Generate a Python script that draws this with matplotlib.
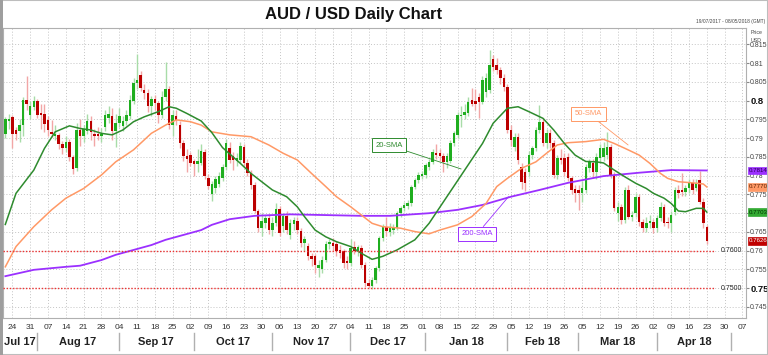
import numpy as np
import pandas as pd
import matplotlib
matplotlib.use('Agg')
import matplotlib.pyplot as plt
from matplotlib.patches import Rectangle
from matplotlib.lines import Line2D

plt.rcParams['font.family'] = ['Liberation Sans', 'DejaVu Sans']

# daily bars, 20 Jul 2017 - 23 Apr 2018 (trading days, holidays kept)
dates = pd.bdate_range('2017-07-20', '2018-04-23')

opens = [
    0.7911, 0.7945,
    0.7957, 0.7923, 0.7919, 0.7934, 0.8001,
    0.7961, 0.7983, 0.8000, 0.7967, 0.7965,
    0.7948, 0.7917, 0.7905, 0.7908, 0.7884,
    0.7873, 0.7890, 0.7849, 0.7820, 0.7923,
    0.7905, 0.7920, 0.7945, 0.7912, 0.7910,
    0.7906, 0.7930, 0.7955, 0.7958, 0.7918,
    0.7940, 0.7933, 0.7945, 0.7958, 0.7998,
    0.8047, 0.8069, 0.8029, 0.8020, 0.7985,
    0.8004, 0.7994, 0.7963, 0.8011, 0.8031,
    0.7936, 0.7960, 0.7934, 0.7888, 0.7852,
    0.7854, 0.7838, 0.7830, 0.7835, 0.7863,
    0.7795, 0.7750, 0.7768, 0.7777, 0.7795,
    0.7822, 0.7874, 0.7852, 0.7840, 0.7843,
    0.7877, 0.7834, 0.7807, 0.7776, 0.7705,
    0.7661, 0.7674, 0.7687, 0.7656, 0.7674,
    0.7710, 0.7665, 0.7692, 0.7643, 0.7670,
    0.7679, 0.7652, 0.7621, 0.7612, 0.7585,
    0.7585, 0.7554, 0.7550, 0.7576, 0.7617,
    0.7621, 0.7617, 0.7603, 0.7599, 0.7572,
    0.7567, 0.7609, 0.7599, 0.7608, 0.7563,
    0.7514, 0.7505, 0.7522, 0.7553, 0.7633,
    0.7664, 0.7650, 0.7655, 0.7660, 0.7700,
    0.7713, 0.7718, 0.7726, 0.7771, 0.7788,
    0.7800, 0.7802, 0.7824, 0.7837, 0.7860,
    0.7860, 0.7852, 0.7837, 0.7840, 0.7886,
    0.7908, 0.7960, 0.7962, 0.7968, 0.8002,
    0.8000, 0.8010, 0.7997, 0.8024, 0.8028,
    0.8110, 0.8095, 0.8082, 0.8060, 0.8037,
    0.7922, 0.7877, 0.7904, 0.7824, 0.7811,
    0.7811, 0.7855, 0.7873, 0.7922, 0.7944,
    0.7886, 0.7913, 0.7886, 0.7802, 0.7848,
    0.7846, 0.7850, 0.7793, 0.7765, 0.7762,
    0.7753, 0.7762, 0.7820, 0.7833, 0.7811,
    0.7846, 0.7851, 0.7855, 0.7877, 0.7802,
    0.7700, 0.7717, 0.7682, 0.7762, 0.7691,
    0.7700, 0.7744, 0.7677, 0.7660, 0.7673,
    0.7677, 0.7660, 0.7687, 0.7717, 0.7677,
    0.7673, 0.7704, 0.7762, 0.7762, 0.7757,
    0.7766, 0.7780, 0.7766, 0.7788, 0.7731,
    0.7664,
]
highs = [
    0.7957, 0.7965,
    0.7962, 0.7930, 0.7950, 0.8010, 0.8065,
    0.8000, 0.8012, 0.8005, 0.7990, 0.7992,
    0.7960, 0.7948, 0.7935, 0.7915, 0.7893,
    0.7905, 0.7897, 0.7855, 0.7940, 0.7950,
    0.7935, 0.7965, 0.7958, 0.7925, 0.7930,
    0.7928, 0.7975, 0.7985, 0.7980, 0.7965,
    0.7980, 0.7960, 0.7975, 0.8015, 0.8060,
    0.8125, 0.8080, 0.8045, 0.8030, 0.8012,
    0.8015, 0.8000, 0.8025, 0.8102, 0.8040,
    0.7975, 0.7975, 0.7945, 0.7895, 0.7870,
    0.7862, 0.7845, 0.7870, 0.7885, 0.7870,
    0.7805, 0.7785, 0.7800, 0.7810, 0.7830,
    0.7897, 0.7890, 0.7862, 0.7860, 0.7890,
    0.7885, 0.7845, 0.7815, 0.7782, 0.7712,
    0.7700, 0.7695, 0.7697, 0.7690, 0.7728,
    0.7720, 0.7700, 0.7705, 0.7685, 0.7690,
    0.7690, 0.7660, 0.7640, 0.7620, 0.7595,
    0.7590, 0.7575, 0.7585, 0.7625, 0.7632,
    0.7635, 0.7625, 0.7615, 0.7605, 0.7585,
    0.7630, 0.7625, 0.7615, 0.7615, 0.7570,
    0.7525, 0.7530, 0.7560, 0.7640, 0.7670,
    0.7690, 0.7675, 0.7670, 0.7705, 0.7720,
    0.7730, 0.7735, 0.7775, 0.7795, 0.7810,
    0.7812, 0.7835, 0.7845, 0.7870, 0.7885,
    0.7870, 0.7860, 0.7860, 0.7895, 0.7920,
    0.7970, 0.7985, 0.7990, 0.8010, 0.8035,
    0.8030, 0.8020, 0.8065, 0.8075, 0.8135,
    0.8122, 0.8115, 0.8090, 0.8070, 0.8045,
    0.7935, 0.7915, 0.7915, 0.7835, 0.7820,
    0.7865, 0.7880, 0.7930, 0.7988, 0.7955,
    0.7925, 0.7925, 0.7895, 0.7855, 0.7870,
    0.7860, 0.7860, 0.7800, 0.7775, 0.7775,
    0.7785, 0.7830, 0.7845, 0.7845, 0.7860,
    0.7885, 0.7890, 0.7917, 0.7885, 0.7810,
    0.7730, 0.7725, 0.7770, 0.7775, 0.7705,
    0.7755, 0.7750, 0.7685, 0.7690, 0.7695,
    0.7685, 0.7695, 0.7730, 0.7725, 0.7690,
    0.7705, 0.7770, 0.7775, 0.7808, 0.7775,
    0.7790, 0.7790, 0.7790, 0.7812, 0.7740,
    0.7668,
]
lows = [
    0.7900, 0.7925,
    0.7873, 0.7895, 0.7890, 0.7905, 0.7975,
    0.7950, 0.7975, 0.7955, 0.7925, 0.7917,
    0.7905, 0.7903, 0.7895, 0.7870, 0.7858,
    0.7862, 0.7840, 0.7805, 0.7812, 0.7880,
    0.7890, 0.7912, 0.7895, 0.7880, 0.7895,
    0.7890, 0.7920, 0.7940, 0.7895, 0.7877,
    0.7930, 0.7920, 0.7935, 0.7950, 0.7990,
    0.8030, 0.8025, 0.8005, 0.7970, 0.7960,
    0.7975, 0.7940, 0.7955, 0.8000, 0.7925,
    0.7905, 0.7935, 0.7875, 0.7840, 0.7810,
    0.7825, 0.7800, 0.7810, 0.7828, 0.7790,
    0.7765, 0.7733, 0.7755, 0.7770, 0.7785,
    0.7815, 0.7835, 0.7815, 0.7825, 0.7835,
    0.7825, 0.7800, 0.7765, 0.7700, 0.7650,
    0.7640, 0.7660, 0.7645, 0.7640, 0.7665,
    0.7640, 0.7650, 0.7645, 0.7630, 0.7655,
    0.7645, 0.7610, 0.7600, 0.7575, 0.7560,
    0.7540, 0.7530, 0.7540, 0.7570, 0.7605,
    0.7600, 0.7585, 0.7580, 0.7555, 0.7550,
    0.7560, 0.7590, 0.7585, 0.7555, 0.7502,
    0.7500, 0.7498, 0.7515, 0.7545, 0.7625,
    0.7640, 0.7640, 0.7645, 0.7655, 0.7690,
    0.7705, 0.7710, 0.7720, 0.7765, 0.7780,
    0.7790, 0.7795, 0.7815, 0.7830, 0.7845,
    0.7840, 0.7810, 0.7820, 0.7835, 0.7880,
    0.7900, 0.7930, 0.7950, 0.7960, 0.7985,
    0.7975, 0.7953, 0.7990, 0.8010, 0.8020,
    0.8080, 0.8070, 0.8045, 0.8025, 0.7915,
    0.7880, 0.7865, 0.7830, 0.7765, 0.7760,
    0.7800, 0.7845, 0.7865, 0.7915, 0.7880,
    0.7875, 0.7875, 0.7795, 0.7790, 0.7830,
    0.7800, 0.7785, 0.7750, 0.7730, 0.7708,
    0.7730, 0.7755, 0.7810, 0.7795, 0.7790,
    0.7835, 0.7840, 0.7845, 0.7795, 0.7705,
    0.7680, 0.7670, 0.7675, 0.7685, 0.7680,
    0.7690, 0.7665, 0.7650, 0.7650, 0.7660,
    0.7648, 0.7650, 0.7680, 0.7665, 0.7660,
    0.7650, 0.7695, 0.7740, 0.7745, 0.7745,
    0.7755, 0.7750, 0.7760, 0.7725, 0.7660,
    0.7618,
]
closes = [
    0.7950, 0.7952,
    0.7911, 0.7911, 0.7934, 0.8001, 0.7990,
    0.7985, 0.8000, 0.7961, 0.7961, 0.7939,
    0.7921, 0.7911, 0.7912, 0.7884, 0.7875,
    0.7890, 0.7849, 0.7817, 0.7923, 0.7905,
    0.7925, 0.7947, 0.7917, 0.7905, 0.7906,
    0.7912, 0.7961, 0.7965, 0.7918, 0.7940,
    0.7958, 0.7946, 0.7963, 0.8003, 0.8047,
    0.8056, 0.8034, 0.8020, 0.7985, 0.8004,
    0.7994, 0.7963, 0.8011, 0.8031, 0.7934,
    0.7963, 0.7948, 0.7888, 0.7852, 0.7845,
    0.7835, 0.7830, 0.7838, 0.7865, 0.7799,
    0.7773, 0.7777, 0.7790, 0.7799, 0.7822,
    0.7888, 0.7843, 0.7843, 0.7848, 0.7879,
    0.7834, 0.7807, 0.7776, 0.7705, 0.7661,
    0.7679, 0.7687, 0.7656, 0.7674, 0.7710,
    0.7648, 0.7692, 0.7656, 0.7674, 0.7683,
    0.7656, 0.7621, 0.7630, 0.7585, 0.7577,
    0.7563, 0.7563, 0.7576, 0.7617, 0.7623,
    0.7612, 0.7599, 0.7594, 0.7567, 0.7567,
    0.7607, 0.7599, 0.7609, 0.7563, 0.7514,
    0.7505, 0.7522, 0.7553, 0.7633, 0.7664,
    0.7652, 0.7660, 0.7662, 0.7700, 0.7713,
    0.7722, 0.7726, 0.7771, 0.7788, 0.7802,
    0.7805, 0.7828, 0.7837, 0.7864, 0.7855,
    0.7852, 0.7837, 0.7852, 0.7886, 0.7913,
    0.7962, 0.7963, 0.7971, 0.7997, 0.7991,
    0.7992, 0.7997, 0.8055, 0.8060, 0.8095,
    0.8091, 0.8082, 0.8060, 0.8037, 0.7922,
    0.7895, 0.7904, 0.7842, 0.7784, 0.7780,
    0.7855, 0.7873, 0.7922, 0.7944, 0.7886,
    0.7913, 0.7886, 0.7802, 0.7846, 0.7842,
    0.7811, 0.7793, 0.7762, 0.7755, 0.7755,
    0.7766, 0.7824, 0.7837, 0.7811, 0.7851,
    0.7873, 0.7873, 0.7877, 0.7802, 0.7713,
    0.7717, 0.7682, 0.7762, 0.7691, 0.7695,
    0.7744, 0.7677, 0.7660, 0.7673, 0.7680,
    0.7660, 0.7687, 0.7717, 0.7673, 0.7673,
    0.7695, 0.7762, 0.7753, 0.7757, 0.7766,
    0.7780, 0.7762, 0.7780, 0.7731, 0.7673,
    0.7626,
]

# moving averages (bar index, value)
sma20_bar = [0, 3, 8, 11, 14, 18, 21, 24, 27, 30, 33, 36, 39, 43, 46, 48, 51, 55, 58, 61,
             66, 69, 72, 75, 79, 82, 84, 87, 90, 93, 97, 100, 103, 106, 110, 115, 119, 124,
             129, 134, 137, 141, 144, 147, 151, 154, 157, 160, 163, 166, 168, 171, 174, 177,
             180, 182, 185, 187, 189, 191, 194, 196, 197]
sma20_val = [0.7670, 0.7753, 0.7815, 0.7873, 0.7917, 0.7933, 0.7926, 0.7922, 0.7913, 0.7909,
             0.7922, 0.7944, 0.7957, 0.7971, 0.7984, 0.7980, 0.7966, 0.7946, 0.7915, 0.7875,
             0.7833, 0.7806, 0.7784, 0.7762, 0.7744, 0.7717, 0.7691, 0.7655, 0.7637, 0.7624,
             0.7611, 0.7593, 0.7577, 0.7585, 0.7602, 0.7629, 0.7673, 0.7744, 0.7815, 0.7886,
             0.7940, 0.7980, 0.7984, 0.7971, 0.7953, 0.7922, 0.7886, 0.7855, 0.7838, 0.7837,
             0.7834, 0.7815, 0.7797, 0.7780, 0.7766, 0.7753, 0.7740, 0.7726, 0.7706, 0.7704,
             0.7713, 0.7713, 0.7703]
sma50_bar = [0, 3, 8, 13, 17, 22, 27, 31, 36, 41, 45, 48, 52, 55, 58, 63, 69, 74, 78, 82,
             86, 90, 93, 97, 100, 103, 106, 111, 115, 119, 122, 127, 131, 135, 138, 141, 145,
             149, 152, 155, 158, 163, 168, 171, 174, 178, 181, 184, 186, 189, 193, 196, 197]
sma50_val = [0.7557, 0.7611, 0.7664, 0.7709, 0.7740, 0.7766, 0.7802, 0.7837, 0.7869, 0.7913,
             0.7935, 0.7949, 0.7944, 0.7935, 0.7917, 0.7909, 0.7904, 0.7882, 0.7860, 0.7842,
             0.7806, 0.7771, 0.7744, 0.7717, 0.7695, 0.7673, 0.7664, 0.7660, 0.7651, 0.7645,
             0.7655, 0.7669, 0.7691, 0.7726, 0.7771, 0.7793, 0.7820, 0.7837, 0.7860, 0.7882,
             0.7888, 0.7891, 0.7897, 0.7886, 0.7873, 0.7855, 0.7833, 0.7806, 0.7793, 0.7784,
             0.7781, 0.7778, 0.7770]
sma200_bar = [0, 8, 17, 21, 27, 31, 36, 41, 45, 50, 55, 58, 63, 70, 80, 90, 100, 108, 119,
              127, 134, 142, 150, 158, 168, 178, 187, 197]
sma200_val = [0.7532, 0.7549, 0.7557, 0.7560, 0.7575, 0.7589, 0.7602, 0.7615, 0.7629, 0.7642,
              0.7655, 0.7669, 0.7684, 0.7693, 0.7697, 0.7695, 0.7693, 0.7693, 0.7700, 0.7709,
              0.7722, 0.7744, 0.7762, 0.7781, 0.7799, 0.7808, 0.7815, 0.7814]

levels = [0.7600, 0.7500]
last_values = [(0.7814, '#9b30ff', '#2a0050'), (0.7770, '#ff9966', '#5a2000'),
               (0.7703, '#33aa33', '#003300'), (0.7626, '#c00000', '#ffffff')]

GREEN, RED = '#1fae1f', '#bb0000'
GREEN_W, RED_W = '#a8dca8', '#f2a6a6'
C20, C50, C200 = '#2e8b2e', '#ff9966', '#9b30ff'

fig = plt.figure(figsize=(7.68, 3.55), dpi=100)
ax = fig.add_axes([3 / 768, 1 - 318 / 355, 743 / 768, 290 / 355])

o = np.array(opens); h = np.array(highs); l = np.array(lows); c = np.array(closes)
x = np.arange(len(c))
up = c >= o

ax.vlines(x[up], l[up], h[up], color=GREEN_W, lw=1.0, zorder=2)
ax.vlines(x[~up], l[~up], h[~up], color=RED_W, lw=1.0, zorder=2)
body = np.maximum(np.abs(c - o), 0.00012)
ax.bar(x[up], body[up], bottom=np.minimum(o, c)[up], width=0.7, color=GREEN, lw=0, zorder=3)
ax.bar(x[~up], body[~up], bottom=np.minimum(o, c)[~up], width=0.7, color=RED, lw=0, zorder=3)

ax.plot(sma200_bar, sma200_val, color=C200, lw=1.3, zorder=4)
ax.plot(sma50_bar, sma50_val, color=C50, lw=1.1, zorder=4)
ax.plot(sma20_bar, sma20_val, color=C20, lw=1.1, zorder=4)

xmin, xmax = -0.65, 208.0
ax.set_xlim(xmin, xmax)
ax.set_ylim(0.74205, 0.8194)

for lv in levels:
    ax.plot([xmin, 199.3], [lv, lv], color='#ee3333', lw=1.0, ls=(0, (1, 1.3)), zorder=4)
    ax.text(201.0, lv, '%.4f' % lv, fontsize=5, va='center', ha='left', color='#222222')

# weekly grid and day labels
mondays = np.arange(2, 210, 5)
all_days = pd.bdate_range('2017-07-20', periods=210)
ax.set_xticks(mondays)
ax.set_xticklabels([all_days[i].strftime('%d') for i in mondays], fontsize=6, color='#333333')
ax.tick_params(axis='x', length=0, pad=4)

yt = np.round(np.arange(0.745, 0.8151, 0.005), 3)
ax.set_yticks(yt)
ax.yaxis.tick_right()
ylabels = [('%.3f' % v).rstrip('0').rstrip('.') for v in yt]
ax.set_yticklabels(ylabels, fontsize=5, color='#444444')
for t, v in zip(ax.get_yticklabels(), yt):
    if abs(v - 0.8) < 1e-6 or abs(v - 0.75) < 1e-6:
        t.set_fontsize(6.8)
        t.set_fontweight('bold')
        t.set_color('#111111')
    if abs(v - 0.77) < 1e-6:
        t.set_visible(False)   # hidden behind the 20-SMA value tag
ax.tick_params(axis='y', length=2, pad=1, color='#888888')
ax.grid(True, color='#c4c4c4', lw=0.7, ls=(0, (1, 2)))
ax.set_axisbelow(True)
for s in ax.spines.values():
    s.set_color('#b0b0b0')
    s.set_linewidth(0.8)

# month labels and separators
month_start = [i for i in range(1, 210) if all_days[i].month != all_days[i - 1].month]
bounds = [xmin] + [m - 0.5 + 1.4 for m in month_start]
names = ['Jul 17', 'Aug 17', 'Sep 17', 'Oct 17', 'Nov 17', 'Dec 17', 'Jan 18', 'Feb 18',
         'Mar 18', 'Apr 18']
for b in bounds[1:11]:
    ax.add_line(Line2D([b, b], [-0.052, -0.11], transform=ax.get_xaxis_transform(),
                       color='#b0b0b0', lw=1, clip_on=False))
for k, name in enumerate(names):
    mid = (bounds[k] + bounds[k + 1]) / 2
    ax.text(mid, -0.083, name, transform=ax.get_xaxis_transform(), ha='center', va='center',
            fontsize=8, fontweight='bold', color='#222222')

# indicator tags
def tag(text, xy, xytext, col):
    ax.annotate(text, xy=xy, xytext=xytext, fontsize=5.5, color=col, ha='center', va='center',
                bbox=dict(boxstyle='square,pad=0.45', fc='white', ec=col, lw=0.7),
                arrowprops=dict(arrowstyle='-', color=col, lw=0.6, shrinkA=0, shrinkB=0),
                zorder=6)

tag('20-SMA', (128.0, 0.7818), (107.8, 0.7881), C20)
tag('200-SMA', (141.3, 0.7744), (132.5, 0.7645), C200)
tag('50-SMA', (174.9, 0.7882), (163.8, 0.7965), C50)

for val, fc, tc in last_values:
    ax.annotate('%.4f' % val, xy=(1.004, val), xycoords=('axes fraction', 'data'),
                fontsize=4.4, color=tc, ha='left', va='center', zorder=7, annotation_clip=False,
                bbox=dict(boxstyle='square,pad=0.2', fc=fc, ec=fc, lw=0.5))

fig.text(354 / 768, 1 - 14 / 355, 'AUD / USD Daily Chart', ha='center', va='center',
         fontsize=12, fontweight='bold', color='#111111')
fig.text(765 / 768, 1 - 21 / 355, '19/07/2017 - 08/05/2018 (GMT)', ha='right', va='center',
         fontsize=3.5, color='#444444')
fig.text(751 / 768, 1 - 33 / 355, 'Price', ha='left', va='center', fontsize=3.8, color='#444444')
fig.text(751 / 768, 1 - 41 / 355, 'USD', ha='left', va='center', fontsize=3.8, color='#444444')

fig.patches.append(Rectangle((0, 0), 1, 1, transform=fig.transFigure, fill=False,
                             ec='#bdbdbd', lw=1.5))
fig.patches.append(Rectangle((0, 0), 3 / 768, 1, transform=fig.transFigure,
                             fc='#9e9e9e', ec='none'))

fig.savefig('out.png', dpi=100)
